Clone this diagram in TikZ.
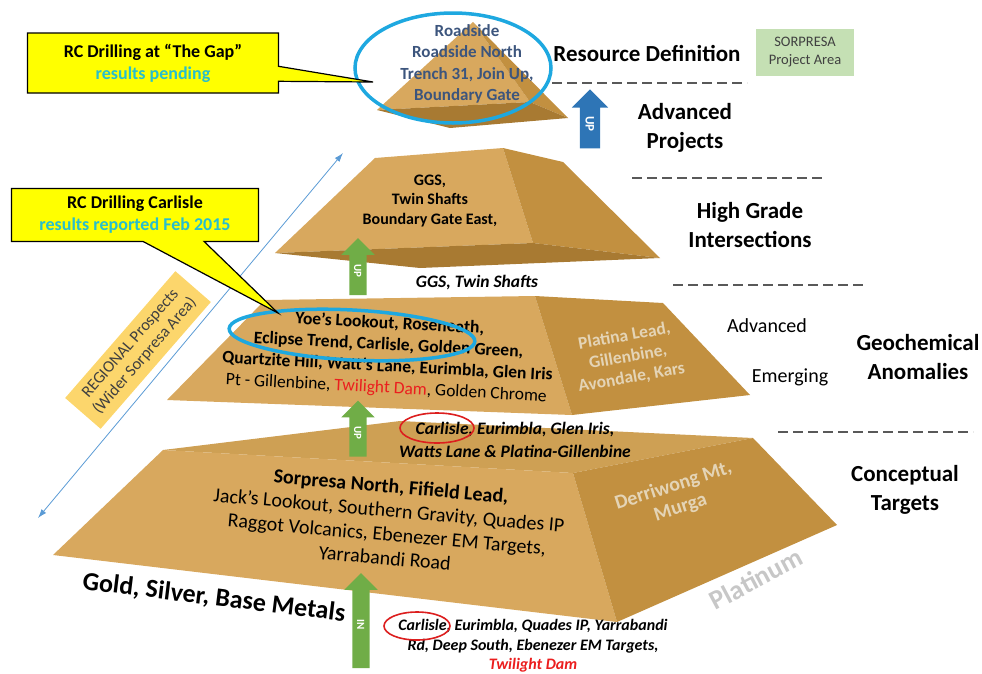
\documentclass[tikz,border=0pt]{standalone}
\usepackage{fontspec}
\setmainfont{Carlito}
\usetikzlibrary{shapes.arrows,shapes.callouts,arrows.meta}

\definecolor{facelt}{RGB}{216,168,94}
\definecolor{facedk}{RGB}{194,144,64}
\definecolor{faceun}{RGB}{168,122,50}
\definecolor{facetop}{RGB}{206,160,84}
\definecolor{upgreen}{RGB}{112,173,71}
\definecolor{upblue}{RGB}{46,117,182}
\definecolor{ringblue}{RGB}{30,168,224}
\definecolor{ringred}{RGB}{220,30,30}
\definecolor{noteyel}{RGB}{255,255,0}
\definecolor{pendcyan}{RGB}{40,190,205}
\definecolor{namblue}{RGB}{60,85,125}
\definecolor{regbox}{RGB}{252,214,108}
\definecolor{projgreen}{RGB}{197,224,180}
\definecolor{linkblue}{RGB}{91,155,213}
\definecolor{twired}{RGB}{235,30,30}
\definecolor{pale}{RGB}{228,212,182}

\newcommand{\fsz}[2]{\fontsize{#1}{#2}\selectfont}

\tikzset{
	lvl/.style={font=\bfseries\fsz{23}{29}, align=center},
	sep/.style={dash pattern=on 10pt off 5pt, line width=1.3pt, black!65},
	ring/.style={draw=ringblue, line width=3.5pt},
	redring/.style={draw=ringred, line width=1.6pt},
	grnarrow/.style={single arrow, fill=upgreen, text=white, font=\bfseries\fsz{11}{11},
		rotate=-90, shape border rotate=180, single arrow head extend=8pt,
		single arrow head indent=0pt, text height=8pt, text depth=0pt, inner ysep=4.5pt, inner xsep=2pt},
	note/.style={rectangle callout, fill=noteyel, draw=black, line width=1.2pt, align=center,
		font=\bfseries\fsz{18}{22}}
}

\begin{document}
\begin{tikzpicture}[x=1pt, y=-1pt]
	\useasboundingbox (0,0) rectangle (982,673);
	\fill[facelt] (473,22) -- (377,110) -- (530,102) -- cycle;
	\fill[facedk] (473,22) -- (530,102) -- (568,118) -- cycle;
	\fill[faceun] (377,110) -- (530,102) -- (568,118) -- (450,128) -- cycle;
	\fill[facelt] (375,158) -- (503,148) -- (533,243) -- (275,253) -- cycle;
	\fill[facedk] (503,148) -- (563,162) -- (660,258) -- (533,243) -- cycle;
	\fill[faceun] (275,253) -- (533,243) -- (660,258) -- (420,268) -- cycle;
	\fill[facelt] (265,300) -- (535,296) -- (572,415) -- (167,400) -- cycle;
	\fill[facedk] (535,296) -- (663,303) -- (750,395) -- (572,415) -- cycle;
	\fill[facetop] (163,450) -- (400,421) -- (753,438) -- (573,473) -- cycle;
	\fill[facelt] (163,450) -- (573,473) -- (617,622) -- (53,555) -- cycle;
	\fill[facedk] (573,473) -- (753,438) -- (837,525) -- (617,622) -- cycle;
	\foreach \a\b\y in {552/747/83, 632/825/178, 673/867/285, 778/973/432}{
		\draw[sep] (\a,\y) -- (\b,\y);
	}
	\node[lvl] (resdef) at (647,53) {Resource Definition};
	\node[lvl] (advproj) at (685,128) {Advanced\\Projects};
	\node[lvl] (hgint) at (750,225) {High Grade\\Intersections};
	\node[lvl] (geochem) at (918,357) {Geochemical\\Anomalies};
	\node[lvl] (concept) at (905,490) {Conceptual\\Targets};
	\node[font=\fsz{20}{24}] (advanced) at (767,326) {Advanced};
	\node[font=\fsz{20}{24}] (emerging) at (790,377) {Emerging};
	\node[fill=projgreen, minimum width=98pt, minimum height=47pt, align=center,
		font=\fsz{14.5}{18}, text=black!75] (sorpresa) at (805,52) {SORPRESA\\Project Area};
	\node[single arrow, fill=upblue, text=white, font=\bfseries\fsz{13}{13}, rotate=-90,
		shape border rotate=180, single arrow head extend=8pt, single arrow head indent=0pt,
		text height=9pt, text depth=0pt, inner ysep=5.5pt, inner xsep=2pt,
		minimum height=59pt] (blueup) at (590,124) {UP};
	\node[font=\bfseries\fsz{17}{21.5}, text=namblue, align=center] (roadside) at (467,64)
		{Roadside\\Roadside North\\Trench 31, Join Up,\\Boundary Gate};
	\draw[ring] (453,68) ellipse [x radius=98, y radius=55];
	\node[font=\bfseries\fsz{16}{19.5}, align=center] (ggs) at (430,201)
		{GGS,\\Twin Shafts\\Boundary Gate East,};
	\node[grnarrow, minimum height=57pt] (up1) at (358,271) {UP};
	\node[font=\bfseries\itshape\fsz{17.5}{21}] (ggstwin) at (477,283) {GGS, Twin Shafts};
	\node[font=\bfseries\fsz{17.5}{21.5}, align=center, rotate=-3] (anomalies) at (388,356)
		{Yoe’s Lookout, Roseneath,\\Eclipse Trend, Carlisle, Golden Green,\\Quartzite Hill, Watt’s Lane, Eurimbla, Glen Iris\\
		\mdseries Pt - Gillenbine, \textcolor{twired}{Twilight Dam}, Golden Chrome};
	\draw[ring, rotate around={-3:(352,335)}] (352,335) ellipse [x radius=123, y radius=25];
	\node[font=\bfseries\fsz{17.5}{21}, text=pale, align=center, rotate=10] (platina) at (628,357)
		{Platina Lead,\\Gillenbine,\\Avondale, Kars};
	\node[grnarrow, minimum height=56pt] (up2) at (358,433) {UP};
	\node[font=\bfseries\itshape\fsz{17.5}{23}, align=center] (carlisle) at (515,440)
		{Carlisle, Eurimbla, Glen Iris,\\Watts Lane \& Platina-Gillenbine};
	\draw[redring] (437,428) ellipse [x radius=37, y radius=15];
	\node[font=\fsz{20}{24}, align=center, rotate=-5] (targets) at (388,522)
		{{\bfseries Sorpresa North, Fifield Lead,}\\Jack’s Lookout, Southern Gravity, Quades IP\\Raggot Volcanics, Ebenezer EM Targets,\\Yarrabandi Road};
	\node[font=\bfseries\fsz{20}{23}, text=pale, align=center, rotate=18] (derriwong) at (677,497)
		{Derriwong Mt,\\Murga};
	\node[font=\bfseries\fsz{26}{30}, rotate=-7] (metals) at (214,598) {Gold, Silver, Base Metals};
	\node[font=\bfseries\fsz{27}{30}, text=black!22, rotate=28] (platinum) at (756,579) {Platinum};
	\node[grnarrow, minimum height=95pt] (in) at (361,625) {IN};
	\node[font=\bfseries\itshape\fsz{16}{19.5}, align=center] (inlist) at (533,646)
		{Carlisle, Eurimbla, Quades IP, Yarrabandi\\Rd, Deep South, Ebenezer EM Targets,\\\textcolor{twired}{Twilight Dam}};
	\draw[redring] (417,626) ellipse [x radius=33, y radius=14];
	\node[fill=regbox, minimum width=168pt, minimum height=47pt, align=center,
		font=\fsz{16.5}{19}, text=black!75, rotate=49] (regional) at (138,350)
		{REGIONAL Prospects\\(Wider Sorpresa Area)};
	\coordinate (regfar) at (38,518);
	\coordinate (regnear) at (343,153);
	\draw[linkblue, line width=0.8pt, {Latex[length=9pt,width=6pt]}-{Latex[length=9pt,width=6pt]}] (regfar) -- (regnear);
	\coordinate (gaptip) at (373,82);
	\coordinate (carltip) at (278,313);
	\node[note, callout absolute pointer={(gaptip)}, callout pointer width=15pt,
		minimum width=251pt, minimum height=60pt] (gapnote) at (153,63)
		{RC Drilling at “The Gap”\\\textcolor{pendcyan}{results pending}};
	\node[note, callout absolute pointer={(carltip)}, callout pointer width=61pt,
		minimum width=247pt, minimum height=53pt] (carlnote) at (135,215)
		{RC Drilling Carlisle\\\textcolor{pendcyan}{results reported Feb 2015}};
\end{tikzpicture}
\end{document}
